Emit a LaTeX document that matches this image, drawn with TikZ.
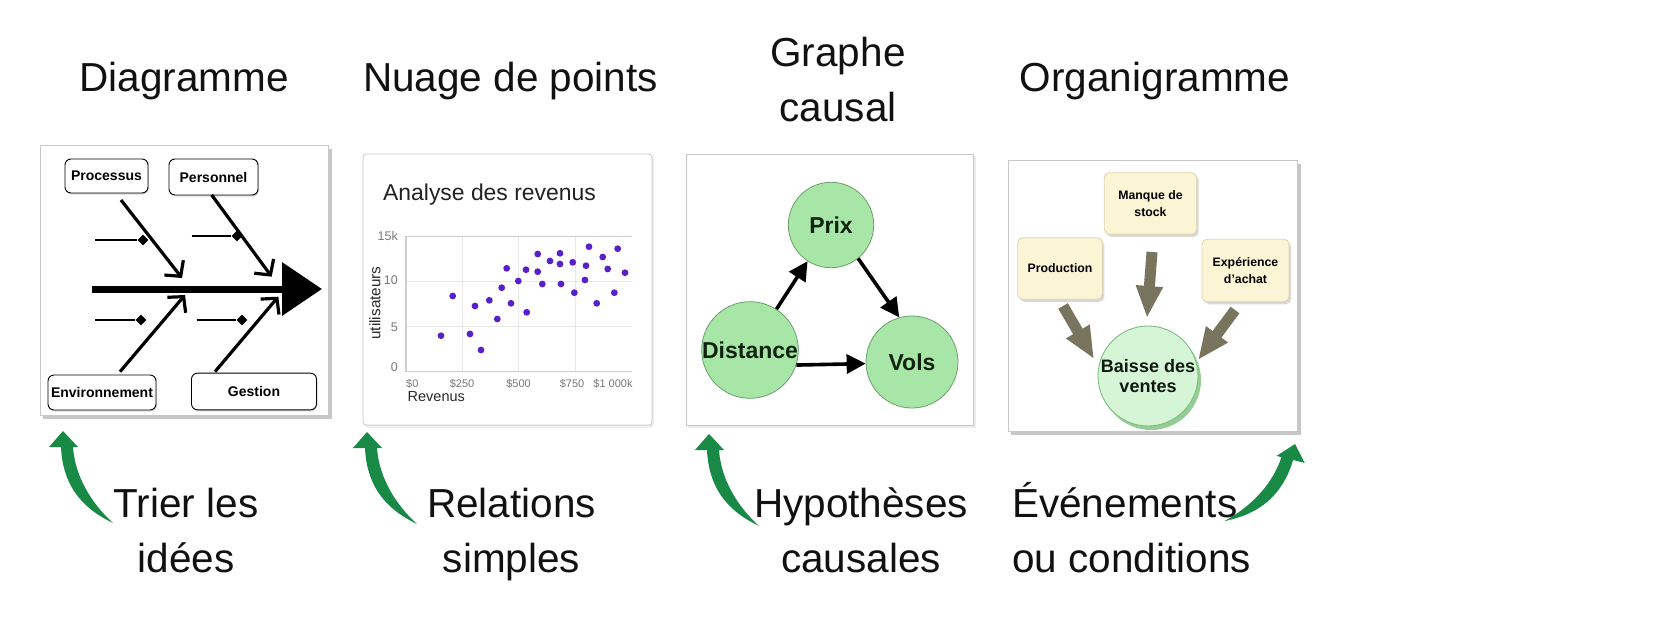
\documentclass[tikz,border=0pt]{standalone}
\usepackage{fontspec}
\setmainfont{Liberation Sans}
\usetikzlibrary{arrows.meta,shapes.geometric,shadows}
\definecolor{gArrow}{RGB}{24,138,70}
\definecolor{dotc}{RGB}{88,32,200}
\definecolor{cgreen}{RGB}{168,230,168}
\definecolor{cgreenb}{RGB}{105,160,105}
\definecolor{ctext}{RGB}{15,35,15}
\definecolor{oyel}{RGB}{251,245,214}
\definecolor{oyelb}{RGB}{222,212,172}
\definecolor{oarrow}{RGB}{120,116,94}
\definecolor{bgreen}{RGB}{214,244,214}
\definecolor{bgreenb}{RGB}{125,190,125}
\definecolor{bgreensh}{RGB}{150,205,150}
\definecolor{pborder}{RGB}{200,200,200}
\definecolor{gridc}{RGB}{232,232,232}
\definecolor{axisc}{RGB}{205,205,205}
\definecolor{tickc}{RGB}{120,120,120}
\definecolor{ttlc}{RGB}{17,17,17}
\definecolor{dark1}{RGB}{34,34,34}
\definecolor{dark2}{RGB}{40,40,40}
\definecolor{btext}{RGB}{15,25,15}
\begin{document}
\begin{tikzpicture}[x=1pt,y=-1pt,
  ttl/.style={font=\fontsize{40.5}{48}\selectfont, anchor=base, inner sep=0pt, text=ttlc},
  panel/.style={draw=pborder, line width=0.8pt, fill=white},
  psh/.style={fill=black!22},
  fb/.style={draw=black, line width=0.9pt, rounded corners=6pt, fill=white, inner sep=0pt,
     font=\fontsize{14}{16}\selectfont\bfseries,
     drop shadow={shadow xshift=1pt, shadow yshift=-1.5pt, opacity=0.3}},
  bone/.style={line width=3.2pt, -{Straight Barb[length=11pt,width=24pt]}},
  sub/.style={line width=1.5pt},
  dia/.style={diamond, fill=black, inner sep=0pt, minimum size=11pt},
  tick/.style={font=\fontsize{11}{12}\selectfont, text=tickc, inner sep=0pt},
  ytick/.style={font=\fontsize{12.5}{13}\selectfont, text=tickc, inner sep=0pt, anchor=base east},
  grid/.style={draw=gridc, line width=1pt},
  cn/.style={circle, fill=cgreen, draw=cgreenb, line width=0.8pt, inner sep=0pt,
     font=\fontsize{23}{26}\selectfont\bfseries, text=ctext},
  carrow/.style={line width=3.6pt, -{Triangle[length=19pt,width=19pt]}},
  ob/.style={rounded corners=5pt, fill=oyel, draw=oyelb, line width=0.8pt, inner sep=0pt,
     font=\fontsize{12.3}{17.4}\selectfont\bfseries, align=center,
     drop shadow={shadow xshift=2pt, shadow yshift=-2.5pt, opacity=0.3}},
  oarr/.style={line width=11pt, draw=oarrow, -{Triangle[length=32pt,width=25pt]}},
  garrow/.pic={\fill[gArrow] (0,0) -- (15,16) -- (10,16) .. controls (12,45) and (28,72) .. (50,92)
     .. controls (25,80) and (0,60) .. (-2,16) -- (-14,16) -- cycle;}
]
\useasboundingbox (0,0) rectangle (1659,624);
\fill[white] (0,0) rectangle (1659,624);

% ---------- titles ----------
\node[ttl] (t1) at (184,91) {Diagramme};
\node[ttl] (t2) at (510.5,91) {Nuage de points};
\node[ttl] (t3a) at (838,66) {Graphe};
\node[ttl] (t3b) at (838,121.5) {causal};
\node[ttl] (t4) at (1155,91) {Organigramme};

% ---------- panel 1 : fishbone ----------
\fill[psh] (43,149) rectangle (331.5,419);
\draw[panel] (40,145) rectangle (328,415);

\node[fb, minimum width=83pt, minimum height=34pt] (proc) at (106.5,176) {Processus};
\node[fb, minimum width=89pt, minimum height=36pt] (pers) at (213.5,177) {Personnel};
\node[fb, minimum width=108pt, minimum height=35pt] (env) at (102,392.5) {Environnement};
\node[fb, minimum width=125pt, minimum height=36.7pt] (gest) at (254,391.5) {Gestion};

\coordinate (spA) at (92,289);
\coordinate (spB) at (322,289);
\draw[line width=7pt, -{Triangle[length=40pt,width=52pt]}] (spA) -- (spB);

\coordinate (bn1a) at (121,200);   \coordinate (bn1b) at (182,278);
\coordinate (bn2a) at (211.7,195); \coordinate (bn2b) at (271.7,276.7);
\coordinate (bn3a) at (120,371.7); \coordinate (bn3b) at (185,295);
\coordinate (bn4a) at (215,371.7); \coordinate (bn4b) at (278.3,296.7);
\draw[bone] (bn1a) -- (bn1b);
\draw[bone] (bn2a) -- (bn2b);
\draw[bone] (bn3a) -- (bn3b);
\draw[bone] (bn4a) -- (bn4b);

\node[dia] (d1) at (143,240) {};
\node[dia] (d2) at (237,236) {};
\node[dia] (d3) at (141,320) {};
\node[dia] (d4) at (242,320) {};
\coordinate (s1) at (95,240);
\coordinate (s2) at (191.7,236);
\coordinate (s3) at (95,320);
\coordinate (s4) at (196.7,320);
\draw[sub] (s1) -- (d1);
\draw[sub] (s2) -- (d2);
\draw[sub] (s3) -- (d3);
\draw[sub] (s4) -- (d4);

% ---------- panel 2 : scatter ----------
\fill[black!8, rounded corners=3pt] (365,156) rectangle (654,427.5);
\draw[panel, rounded corners=3pt] (363,154) rectangle (652,425);
\node[anchor=base west, font=\fontsize{22.9}{26}\selectfont, text=dark1, inner sep=0pt] (stitle) at (383,200) {Analyse des revenus};

\draw[grid] (406,281.5) -- (632,281.5);
\draw[grid] (406,326.5) -- (632,326.5);
\draw[grid] (462,236.5) -- (462,371.5);
\draw[grid] (518.5,236.5) -- (518.5,371.5);
\draw[grid] (575,236.5) -- (575,371.5);
\draw[draw=axisc, line width=1.2pt] (632,236.5) -- (406,236.5) -- (406,371.5) -- (632,371.5);

\node[ytick] (y15) at (398,240.5) {15k};
\node[ytick] (y10) at (398,284.5) {10};
\node[ytick] (y5) at (398,331) {5};
\node[ytick] (y0) at (398,371) {0};
\node[tick, anchor=base west] (x0) at (406,387) {\$0};
\node[tick, anchor=base] (x1) at (462,387) {\$250};
\node[tick, anchor=base] (x2) at (518.5,387) {\$500};
\node[tick, anchor=base] (x3) at (572,387) {\$750};
\node[tick, anchor=base] (x4) at (613,387) {\$1 000k};
\node[rotate=90, font=\fontsize{15.3}{17}\selectfont, text=dark2, inner sep=0pt] (ylab) at (375,303) {utilisateurs};
\node[anchor=base west, font=\fontsize{14.5}{16}\selectfont, text=dark2, inner sep=0pt] (xlab) at (407.5,401) {Revenus};

\foreach \px/\py in {441/335.7, 452.7/296, 470/334, 475/306, 481/350, 489.3/300.3, 497.3/319,
  501.7/287.7, 506.7/268.3, 511/303.3, 518.3/281, 526.7/312.3, 526/269.7, 537.7/254, 537.7/271.7,
  542.3/284, 550/261, 560/253.3, 560/264, 561/284, 572.7/262.3, 574.3/292.7, 585/280, 586/265.7,
  589/246.7, 596.7/303.3, 602.7/257, 607.7/269, 614.3/292.7, 617.7/248.7, 625/272.7}
  \fill[dotc] (\px,\py) circle[radius=3.4pt];

% ---------- panel 3 : causal graph ----------
\fill[black!8] (688,156) rectangle (975.5,427.5);
\draw[panel] (686,154) rectangle (973,425);
\node[cn, minimum size=85.4pt] (prix) at (831,225) {\makebox[0pt][c]{Prix}};
\node[cn, minimum size=96.6pt] (dist) at (750,350) {\makebox[0pt][c]{Distance}};
\node[cn, minimum size=92pt] (vols) at (912,362) {\makebox[0pt][c]{Vols}};
\draw[carrow] (dist) -- (prix);
\draw[carrow] (prix.-51) -- (vols.106);
\draw[carrow] (dist.-18) -- (vols.182);

% ---------- panel 4 : organigram ----------
\fill[psh] (1011,164) rectangle (1300.5,435);
\draw[panel] (1008,160) rectangle (1297,431);
\node[ob, minimum width=92.4pt, minimum height=61.6pt] (manque) at (1150.5,203.5) {Manque de\\stock};
\node[ob, minimum width=84.6pt, minimum height=61.6pt] (prod) at (1060,268.5) {Production};
\node[ob, minimum width=87pt, minimum height=62.5pt] (exper) at (1245.5,270.5) {Expérience\\d'achat};

\fill[bgreensh] (1151,380) circle[radius=50pt];
\node[circle, fill=bgreen, draw=bgreenb, line width=0.9pt, minimum size=100pt, inner sep=0pt,
  font=\fontsize{18}{20}\selectfont\bfseries, text=btext, align=center] (baisse) at (1148,376) {Baisse des\\ventes};

\coordinate (oa1s) at (1063,306);  \coordinate (oa1e) at (1094,359);
\coordinate (oa2s) at (1152,252);  \coordinate (oa2e) at (1147,318);
\coordinate (oa3s) at (1235,310);  \coordinate (oa3e) at (1198,360);
\draw[oarr] (oa1s) -- (oa1e);
\draw[oarr] (oa2s) -- (oa2e);
\draw[oarr] (oa3s) -- (oa3e);

% ---------- green arrows ----------
\pic (g1) at (63,431) {garrow};
\pic (g2) at (367,432) {garrow};
\pic (g3) at (709,434) {garrow};
\pic[rotate=-14, xscale=-1] (g4) at (1295,444) {garrow};

% ---------- bottom labels ----------
\node[ttl] (b1a) at (186,517) {Trier les};
\node[ttl] (b1b) at (186,572) {idées};
\node[ttl] (b2a) at (511.5,517) {Relations};
\node[ttl] (b2b) at (511.5,572) {simples};
\node[ttl] (b3a) at (861,517) {Hypothèses};
\node[ttl] (b3b) at (861,572) {causales};
\node[ttl, anchor=base west] (b4a) at (1012,517) {Événements};
\node[ttl, anchor=base west] (b4b) at (1012,572) {ou conditions};
\end{tikzpicture}
\end{document}
